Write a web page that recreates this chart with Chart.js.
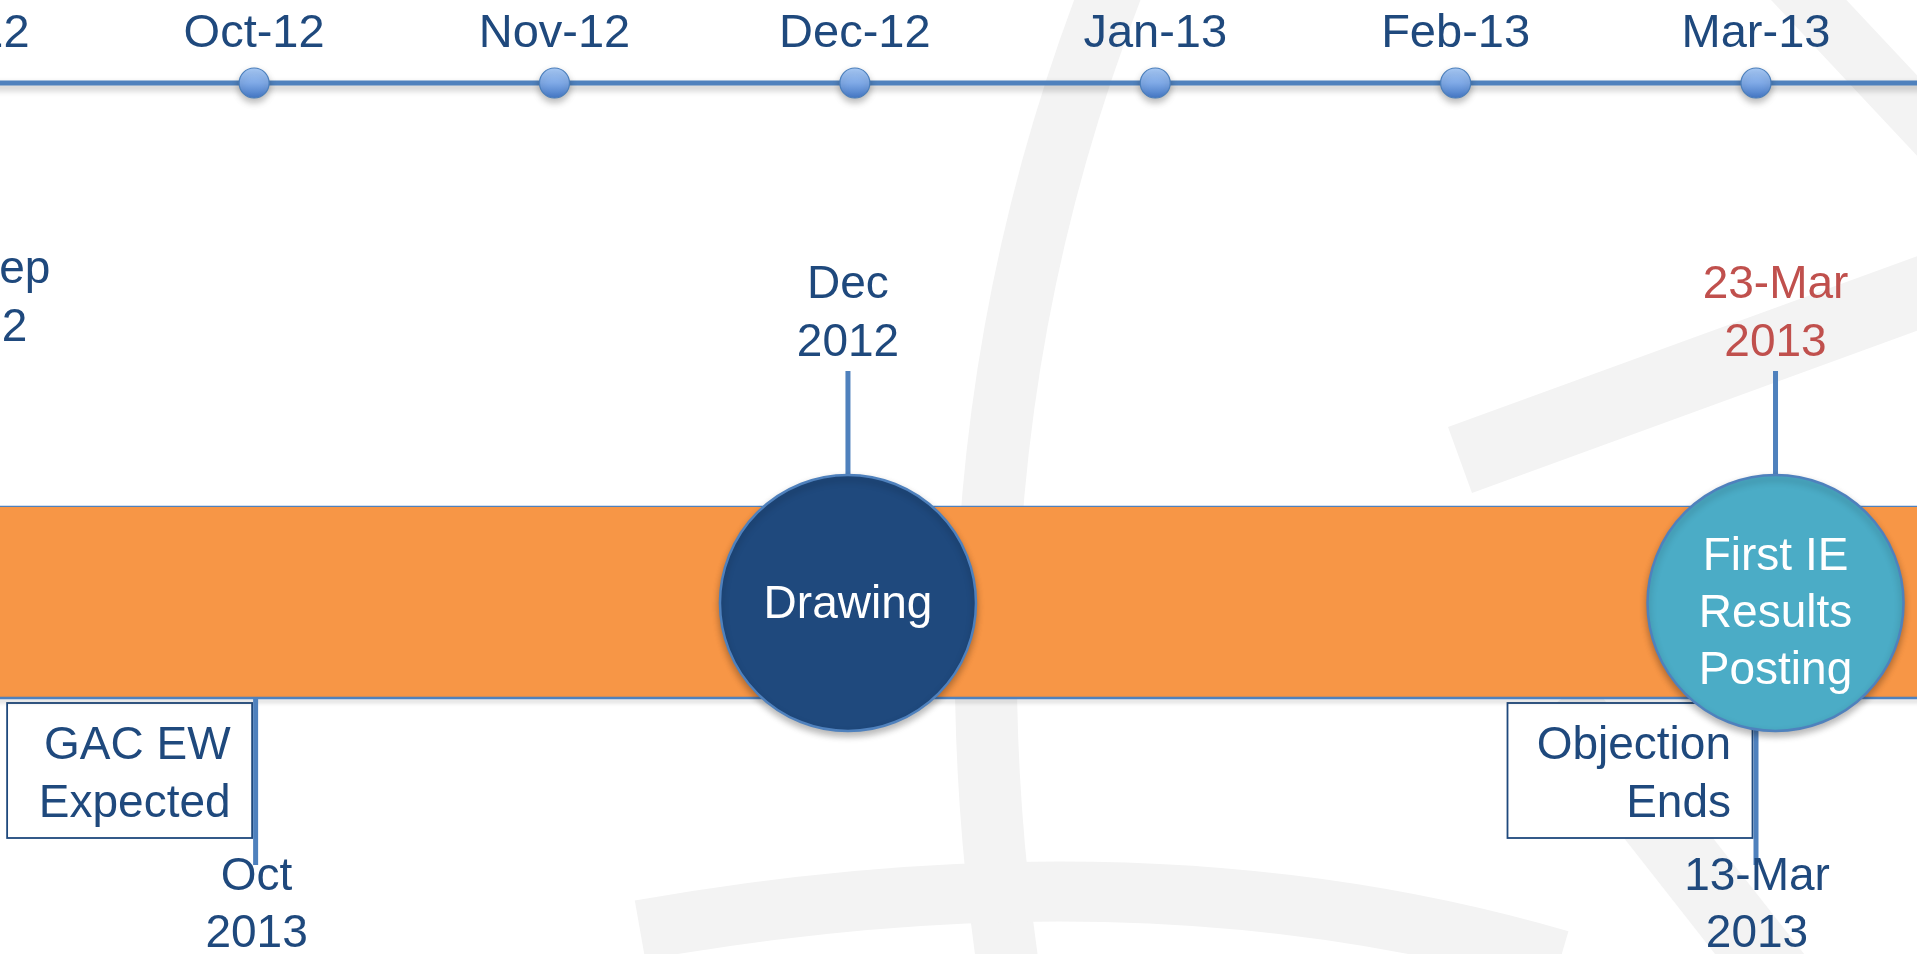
<!DOCTYPE html>
<html>
<head>
<meta charset="utf-8">
<script src="https://cdn.jsdelivr.net/npm/chart.js@4.4.1/dist/chart.umd.min.js"></script>
<style>
  html, body { margin: 0; padding: 0; background: #ffffff; overflow: hidden; }
  #wrap { width: 1917px; height: 954px; }
</style>
</head>
<body>
<div id="wrap"><canvas id="c" width="1917" height="954"></canvas></div>
<script>
// ---------------- DATA ----------------
// Month ticks on the top timeline (index = months since Sep-12)
const monthLabels = ['Sep-12', 'Oct-12', 'Nov-12', 'Dec-12', 'Jan-13', 'Feb-13', 'Mar-13'];
const monthValues = [0, 1, 2, 3, 4, 5, 6];

// Events above the band (date labels on top)
const topEventDates  = [['13-Sep', '2012'], ['Dec', '2012'], ['23-Mar', '2013']];
const topEventValues = [0.075, 2.977, 6.065];
const topEventHighlight = [false, false, true];

// Circle milestones sitting on the band
const circleNames  = [['Drawing'], ['First IE', 'Results', 'Posting']];
const circleValues = [2.977, 6.065];

// Events below the band (boxed name, date underneath)
const bottomEventNames  = [['GAC EW', 'Expected'], ['Objection', 'Ends']];
const bottomEventDates  = [['Oct', '2013'], ['13-Mar', '2013']];
const bottomEventValues = [1.005, 6.0];

// ---------------- LAYOUT / STYLE ----------------
const X_MIN = 0.154, X_MAX = 6.536;
const LANE = {
  monthText: 47, axis: 83, topText: 298, sepText: 283,
  bandTop: 507, bandBottom: 698, circle: 603,
  topStemTop: 371, bottomStemBottom: 865,
  boxTop: 703, boxBottom: 838, boxText: 759, bottomText: 890,
  circleOne: 618, circleMulti: 570
};
const C = {
  text: '#1F497D', red: '#C0504D', orange: '#F79646', line: '#4F81BD',
  navy: '#1F497D', teal: '#4BACC6', wm: '#F3F3F3'
};
const FONT = '"Liberation Sans", Arial, sans-serif';
const CIRCLE_R = 128;
const circleFill = [C.navy, C.teal];

// ---------------- DATASETS ----------------
const axisPoints = [{x: X_MIN - 1, y: LANE.axis}]
  .concat(monthValues.map(v => ({x: v, y: LANE.axis})))
  .concat([{x: X_MAX + 1, y: LANE.axis}]);

const datasets = [];

// circles (on top)
datasets.push({
  type: 'line', label: 'circles', showLine: false, order: 1,
  data: circleValues.map(v => ({x: v, y: LANE.circle})),
  pointRadius: CIRCLE_R, pointHoverRadius: CIRCLE_R,
  pointBackgroundColor: circleFill, pointBorderColor: C.line, pointBorderWidth: 2.5,
  shadow: true
});
// top axis line with month markers
datasets.push({
  type: 'line', label: 'axis', order: 2,
  data: axisPoints, borderColor: C.line, borderWidth: 5,
  pointRadius: ctx => (ctx.dataIndex === 0 || ctx.dataIndex === axisPoints.length - 1) ? 0 : 15,
  pointBorderColor: '#4A7EBB', pointBorderWidth: 1.2,
  pointBackgroundColor: ctx => {
    const ys = ctx.chart.scales && ctx.chart.scales.y;
    let cy = ys ? ys.getPixelForValue(LANE.axis) : NaN;
    if (!Number.isFinite(cy)) cy = LANE.axis;
    const g = ctx.chart.ctx.createLinearGradient(0, cy - 15, 0, cy + 15);
    g.addColorStop(0, '#A9CBF7'); g.addColorStop(0.5, '#7FA9E6'); g.addColorStop(1, '#4477C4');
    return g;
  },
  shadow: true
});
// stems from top date labels to the band
topEventValues.forEach((v, i) => {
  datasets.push({
    type: 'line', label: 'stemTop' + i, order: 3,
    data: [{x: v, y: LANE.topStemTop}, {x: v, y: LANE.circle}],
    borderColor: C.line, borderWidth: 5, pointRadius: 0
  });
});
// stems from the band to bottom date labels
bottomEventValues.forEach((v, i) => {
  datasets.push({
    type: 'line', label: 'stemBottom' + i, order: 3,
    data: [{x: v, y: LANE.bandBottom}, {x: v, y: LANE.bottomStemBottom}],
    borderColor: C.line, borderWidth: 5, pointRadius: 0, borderCapStyle: 'butt'
  });
});
// orange band: two edges, filled between
datasets.push({
  type: 'line', label: 'bandTop', order: 6,
  data: [{x: X_MIN - 1, y: LANE.bandTop}, {x: X_MAX + 1, y: LANE.bandTop}],
  borderColor: C.line, borderWidth: 2.5, pointRadius: 0, fill: false
});
datasets.push({
  type: 'line', label: 'bandBottom', order: 5,
  data: [{x: X_MIN - 1, y: LANE.bandBottom}, {x: X_MAX + 1, y: LANE.bandBottom}],
  borderColor: C.line, borderWidth: 2.5, pointRadius: 0,
  fill: '-1', backgroundColor: C.orange,
  shadow: true, shadowSoft: true
});

// ---------------- PLUGINS ----------------
const shadowPlugin = {
  id: 'shadow',
  beforeDatasetDraw(chart, args) {
    const ds = chart.data.datasets[args.index];
    if (ds.shadow) {
      chart.ctx.save();
      chart.ctx.shadowColor = ds.shadowSoft ? 'rgba(0,0,0,0.22)' : 'rgba(0,0,0,0.28)';
      chart.ctx.shadowBlur = ds.shadowSoft ? 4 : 7;
      chart.ctx.shadowOffsetY = ds.shadowSoft ? 3 : 4;
    }
  },
  afterDatasetDraw(chart, args) {
    const ds = chart.data.datasets[args.index];
    if (ds.shadow) chart.ctx.restore();
  }
};

const backgroundPlugin = {
  id: 'bg',
  beforeDraw(chart) {
    const ctx = chart.ctx;
    ctx.save();
    ctx.fillStyle = '#ffffff';
    ctx.fillRect(0, 0, chart.width, chart.height);
    // faint globe watermark (decoration)
    ctx.strokeStyle = C.wm;
    ctx.lineCap = 'butt';
    ctx.lineWidth = 62;
    ctx.beginPath(); ctx.moveTo(1115, -20); ctx.quadraticCurveTo(930, 450, 1010, 980); ctx.stroke();
    ctx.lineWidth = 70;
    ctx.beginPath(); ctx.moveTo(1460, 460); ctx.lineTo(1940, 285); ctx.stroke();
    ctx.lineWidth = 55;
    ctx.beginPath(); ctx.moveTo(1790, -20); ctx.lineTo(1940, 140); ctx.stroke();
    ctx.lineWidth = 60;
    ctx.beginPath(); ctx.moveTo(640, 930); ctx.quadraticCurveTo(1150, 840, 1560, 960); ctx.stroke();
    ctx.lineWidth = 70;
    ctx.beginPath(); ctx.moveTo(1560, 700); ctx.lineTo(1780, 980); ctx.stroke();
    ctx.restore();
  },
  beforeDatasetsDraw(chart) {
    const ctx = chart.ctx, xs = chart.scales.x, ys = chart.scales.y;
    ctx.save();
    // boxes for the bottom events
    bottomEventValues.forEach(v => {
      const px = xs.getPixelForValue(v);
      const right = px - 3.5, left = right - 245;
      const top = ys.getPixelForValue(LANE.boxTop), bot = ys.getPixelForValue(LANE.boxBottom);
      ctx.fillStyle = '#ffffff';
      ctx.fillRect(left, top, right - left, bot - top);
      ctx.strokeStyle = C.navy; ctx.lineWidth = 1.8;
      ctx.strokeRect(left, top, right - left, bot - top);
    });
    ctx.restore();
  }
};

const textPlugin = {
  id: 'texts',
  afterDatasetsDraw(chart) {
    const ctx = chart.ctx, xs = chart.scales.x, ys = chart.scales.y;
    const Y = v => ys.getPixelForValue(v);
    ctx.save();
    ctx.textBaseline = 'alphabetic';
    ctx.textAlign = 'center';
    // month tick labels
    ctx.font = '47px ' + FONT;
    ctx.fillStyle = C.text;
    monthLabels.forEach((t, i) => ctx.fillText(t, xs.getPixelForValue(monthValues[i]), Y(LANE.monthText)));
    // top event dates
    ctx.font = '46px ' + FONT;
    topEventDates.forEach((lines, i) => {
      ctx.fillStyle = topEventHighlight[i] ? C.red : C.text;
      const base = i === 0 ? LANE.sepText : LANE.topText;
      lines.forEach((t, j) => ctx.fillText(t, xs.getPixelForValue(topEventValues[i]), Y(base + j * 58)));
    });
    // circle labels
    ctx.fillStyle = '#ffffff';
    circleNames.forEach((lines, i) => {
      const base = lines.length > 1 ? LANE.circleMulti : LANE.circleOne;
      lines.forEach((t, j) => ctx.fillText(t, xs.getPixelForValue(circleValues[i]), Y(base + j * 57)));
    });
    // bottom event names (right aligned in their boxes) and dates
    bottomEventNames.forEach((lines, i) => {
      const px = xs.getPixelForValue(bottomEventValues[i]);
      ctx.fillStyle = C.text;
      ctx.textAlign = 'right';
      lines.forEach((t, j) => ctx.fillText(t, px - 25, Y(LANE.boxText + j * 58)));
      ctx.textAlign = 'center';
      bottomEventDates[i].forEach((t, j) => ctx.fillText(t, px + 1, Y(LANE.bottomText + j * 57)));
    });
    ctx.restore();
  }
};

new Chart(document.getElementById('c'), {
  type: 'line',
  data: { datasets },
  options: {
    responsive: false, animation: false, devicePixelRatio: 1,
    layout: { padding: 0, autoPadding: false },
    plugins: { legend: { display: false }, tooltip: { enabled: false } },
    events: [],
    scales: {
      x: { type: 'linear', min: X_MIN, max: X_MAX, display: false },
      y: { type: 'linear', min: 0, max: 954, reverse: true, display: false }
    }
  },
  plugins: [backgroundPlugin, shadowPlugin, textPlugin]
});
</script>
</body>
</html>
